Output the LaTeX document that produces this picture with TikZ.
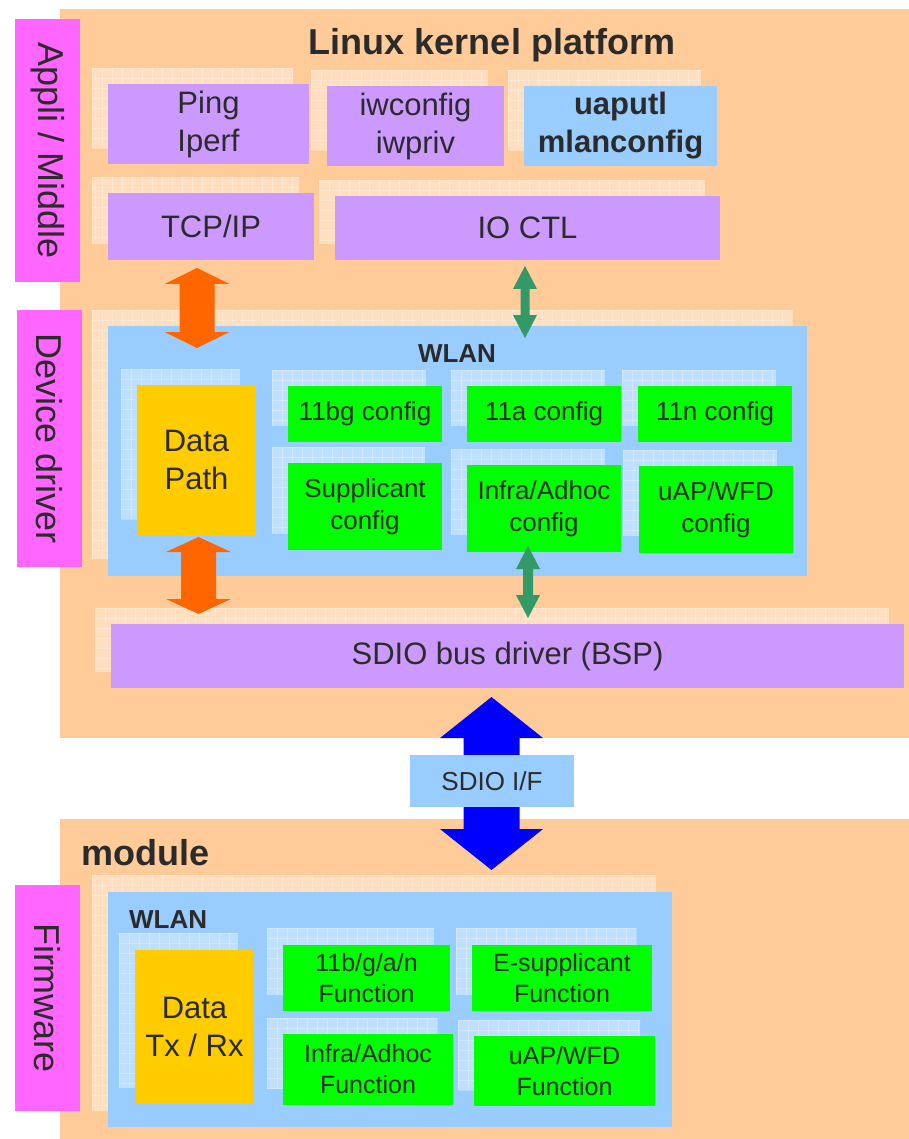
\documentclass[tikz,border=0pt]{standalone}
\usepackage{fontspec}
\setmainfont{Liberation Sans}
\usetikzlibrary{calc}
\definecolor{bgor}{HTML}{FFCC99}
\definecolor{mag}{HTML}{FF66FF}
\definecolor{purp}{HTML}{CC99FF}
\definecolor{lblue}{HTML}{99CCFF}
\definecolor{grn}{HTML}{00FF00}
\definecolor{gold}{HTML}{FFCC00}
\definecolor{aor}{HTML}{FF6600}
\definecolor{agr}{HTML}{339966}
\definecolor{ablue}{HTML}{0000FF}
\definecolor{txt}{HTML}{2B2B2B}
\newcommand{\blkarrow}[6]{%
  \fill[#6] let \p1=(#1), \p2=(#2) in
   (\x1,\y1) -- ({\x1+#4pt},{\y1-#5pt}) -- ({\x1+#3pt},{\y1-#5pt})
   -- ({\x1+#3pt},{\y2+#5pt}) -- ({\x1+#4pt},{\y2+#5pt}) -- (\x1,\y2)
   -- ({\x1-#4pt},{\y2+#5pt}) -- ({\x1-#3pt},{\y2+#5pt})
   -- ({\x1-#3pt},{\y1-#5pt}) -- ({\x1-#4pt},{\y1-#5pt}) -- cycle;}
% ghost rectangle: x1,y1,x2,y2
\newcommand{\ghostrect}[4]{%
  \fill[white,fill opacity=0.38] (#1,#2) rectangle (#3,#4);
  \pgfmathtruncatemacro\gnx{(#3-#1)/10}%
  \pgfmathtruncatemacro\gny{(#4-#2)/10}%
  \foreach \k in {0,...,\gnx} \draw[white,opacity=0.28,line width=0.6pt] ({#1+10*\k},#2) -- ({#1+10*\k},#4);
  \foreach \k in {0,...,\gny} \draw[white,opacity=0.28,line width=0.6pt] (#1,{#2+10*\k}) -- (#3,{#2+10*\k});
}
\begin{document}
\begin{tikzpicture}[x=1pt,y=-1pt,
  box/.style={rectangle,inner sep=0pt,outer sep=0pt,anchor=north west,align=center,text=txt},
  fbig/.style={font=\fontsize{31}{38}\selectfont},
  fmid/.style={font=\fontsize{26}{32}\selectfont},
  fsmall/.style={font=\fontsize{25}{31}\selectfont},
  side/.style={box,fill=mag,font=\fontsize{36}{42}\selectfont},
  purpbox/.style={box,fill=purp,fbig},
  greenbox/.style={box,fill=grn,fmid},
  gfunc/.style={box,fill=grn,fsmall},
  goldbox/.style={box,fill=gold,fbig},
  title/.style={text=txt,inner sep=0pt,font=\fontsize{36}{42}\selectfont\bfseries},
  wlanlbl/.style={text=txt,inner sep=0pt,font=\fontsize{26}{32}\selectfont\bfseries}]
\useasboundingbox (0,0) rectangle (909,1139);
\fill[white] (0,0) rectangle (909,1139);
% backgrounds
\fill[bgor] (60,9) rectangle (909,738);
\fill[bgor] (60,819) rectangle (909,1139);
% side labels
\node[side,minimum width=65,minimum height=263] (appli) at (15,19) {};
\node[rotate=-90,text=txt,font=\fontsize{36}{42}\selectfont] at (appli.center) {Appli / Middle};
\node[side,minimum width=65,minimum height=257] (dev) at (17,310) {};
\node[rotate=-90,text=txt,font=\fontsize{36}{42}\selectfont] at (dev.center) {Device driver};
\node[side,minimum width=65,minimum height=226] (fw) at (15,885) {};
\node[rotate=-90,text=txt,font=\fontsize{36}{42}\selectfont] at (fw.center) {Firmware};
% title
\node[title,anchor=base] (ttl) at (492,55) {Linux kernel platform};
% ghosts top
\ghostrect{92}{68}{293}{148}
\ghostrect{311}{70}{488}{150}
\ghostrect{508}{70}{701}{150}
\ghostrect{92}{177}{299}{244}
\ghostrect{319}{180}{705}{244}
\ghostrect{92}{310}{792}{559}
\ghostrect{95}{608}{889}{672}
% top boxes
\node[purpbox,minimum width=201,minimum height=80] (ping) at (108,84) {Ping\\Iperf};
\node[purpbox,minimum width=177,minimum height=80] (iw) at (327,86) {iwconfig\\iwpriv};
\node[box,fill=lblue,minimum width=193,minimum height=80,font=\fontsize{31}{38}\selectfont\bfseries] (uap) at (524,86) {uaputl\\mlanconfig};
\node[purpbox,minimum width=206,minimum height=67] (tcp) at (108,193) {TCP/IP};
\node[purpbox,minimum width=385,minimum height=64] (ioctl) at (335,196) {IO CTL};
% WLAN top
\node[box,fill=lblue,minimum width=699,minimum height=250] (wlan) at (108,326) {};
\node[wlanlbl,anchor=base] (wlanl) at (457,362) {WLAN};
\ghostrect{121}{369}{240}{519}
\ghostrect{272}{370}{426}{426}
\ghostrect{451}{370}{605}{426}
\ghostrect{622}{370}{776}{426}
\ghostrect{272}{447}{425}{534}
\ghostrect{451}{449}{605}{535}
\ghostrect{623}{450}{777}{536}
\node[goldbox,minimum width=119,minimum height=150] (dp) at (137,385) {Data\\Path};
\node[greenbox,minimum width=154,minimum height=56] (bg) at (288,386) {11bg config};
\node[greenbox,minimum width=154,minimum height=56] (a) at (467,386) {11a config};
\node[greenbox,minimum width=154,minimum height=56] (n) at (638,386) {11n config};
\node[greenbox,minimum width=154,minimum height=87] (sup) at (288,463) {Supplicant\\config};
\node[greenbox,minimum width=154,minimum height=87] (inf) at (467,465) {Infra/Adhoc\\config};
\node[greenbox,minimum width=154,minimum height=87] (uw) at (639,466) {uAP/WFD\\config};
% SDIO bus
\node[purpbox,minimum width=793,minimum height=64] (bus) at (111,624) {SDIO bus driver (BSP)};
% module
\node[title,anchor=base west] (mod) at (81,865) {module};
\ghostrect{92}{875}{656}{1111}
\node[box,fill=lblue,minimum width=564,minimum height=235] (wlan2) at (108,892) {};
\node[wlanlbl,anchor=base west] (wlan2l) at (129,928) {WLAN};
\ghostrect{119}{933}{238}{1088}
\ghostrect{267}{928}{434}{995}
\ghostrect{456}{928}{636}{995}
\ghostrect{267}{1018}{437}{1089}
\ghostrect{458}{1020}{640}{1090}
\node[goldbox,minimum width=119,minimum height=154] (dtx) at (135,950) {Data\\Tx / Rx};
\node[gfunc,minimum width=167,minimum height=66] (fb) at (283,945) {11b/g/a/n\\Function};
\node[gfunc,minimum width=180,minimum height=66] (fe) at (472,945) {E-supplicant\\Function};
\node[gfunc,minimum width=170,minimum height=71] (fi) at (283,1034) {Infra/Adhoc\\Function};
\node[gfunc,minimum width=181,minimum height=70] (fu) at (474,1036) {uAP/WFD\\Function};
% arrows
\coordinate (o1t) at (197,268); \coordinate (o1b) at (197,348);
\blkarrow{o1t}{o1b}{17.5}{32.5}{16}{aor}
\coordinate (o2t) at (198.5,537); \coordinate (o2b) at (198.5,614);
\blkarrow{o2t}{o2b}{17.5}{32.5}{15}{aor}
\coordinate (g1t) at (525,266); \coordinate (g1b) at (525,338);
\blkarrow{g1t}{g1b}{4.5}{12}{23}{agr}
\coordinate (g2t) at (528,546); \coordinate (g2b) at (528,618);
\blkarrow{g2t}{g2b}{5}{12}{23}{agr}
\coordinate (bt) at (491.5,697); \coordinate (bb) at (491.5,870);
\blkarrow{bt}{bb}{28}{51.5}{41}{ablue}
\node[box,fill=lblue,minimum width=164,minimum height=52,font=\fontsize{26}{32}\selectfont] (sif) at (410,755) {SDIO I/F};
\end{tikzpicture}
\end{document}
